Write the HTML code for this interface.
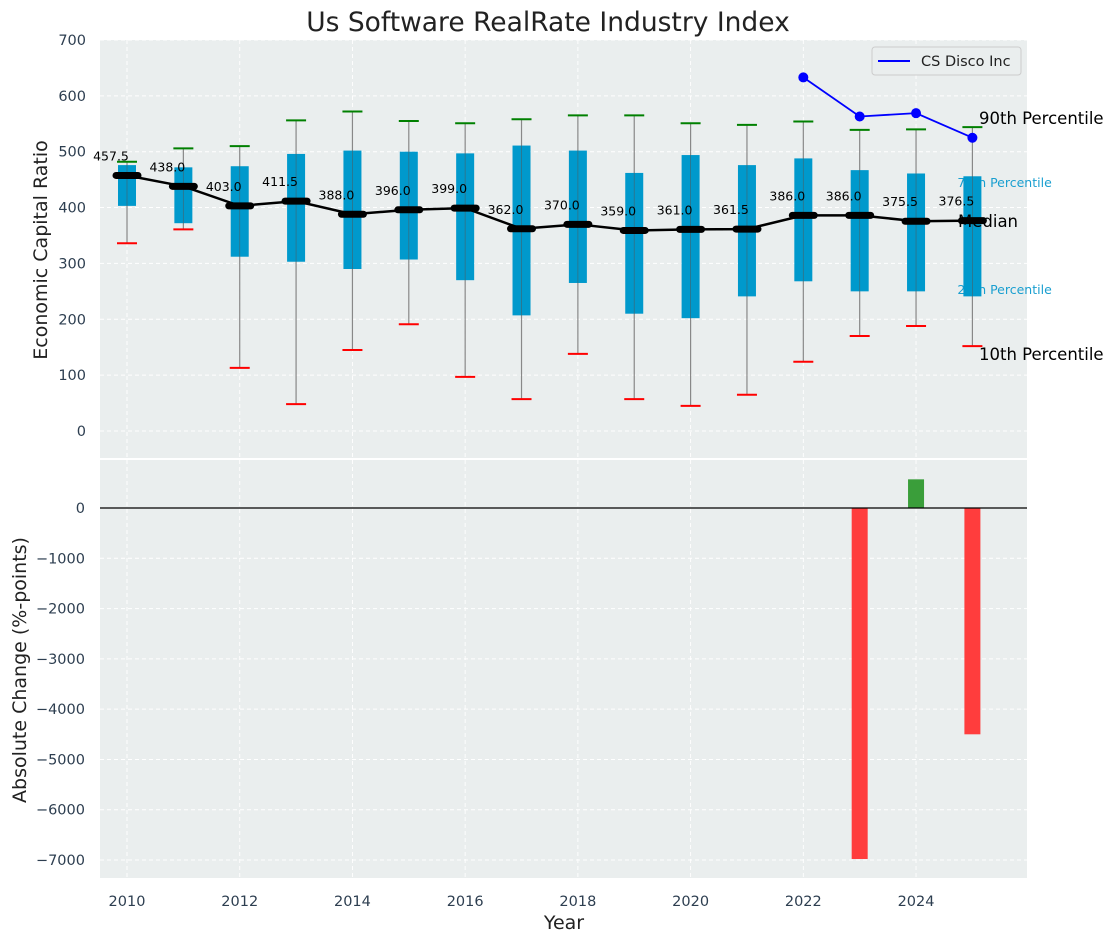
<!DOCTYPE html>
<html><head><meta charset="utf-8"><style>
body{margin:0;background:#fff;}
svg{font-family:"DejaVu Sans","Liberation Sans",sans-serif;}
</style></head><body>
<svg id="c" width="1114" height="942"></svg>
<script>
const years=[2010,2011,2012,2013,2014,2015,2016,2017,2018,2019,2020,2021,2022,2023,2024,2025];
const p10=[336,361,113,48,145,191,97,57,138,57,45,65,124,170,188,152];
const p25=[403,372,312,303,290,307,270,207,265,210,202,241,268,250,250,241];
const med=[457.5,438,403,411.5,388,396,399,362,370,359,361,361.5,386,386,375.5,376.5];
const p75=[476,472,474,496,502,500,497,511,502,462,494,476,488,467,461,456];
const p90=[482,506,510,556,572,555,551,558,565,565,551,548,554,539,540,544];
const compYears=[2022,2023,2024,2025];
const compVals=[633,563,569,525];
const chgYears=[2023,2024,2025];
const chgVals=[-6980,570,-4500];
const topTicks=[0,100,200,300,400,500,600,700];
const botTicks=[0,-1000,-2000,-3000,-4000,-5000,-6000,-7000];
const xTicks=[2010,2012,2014,2016,2018,2020,2022,2024];

const L=100,R=1027,T1=40,B1=458,T2=460,B2=878;
const X=v=>127+(v-2010)*56.36;
const Y1=v=>431-v*0.5586;
const Y2=v=>508-v*0.05029;
const svg=document.getElementById('c');
const NS='http://www.w3.org/2000/svg';
function mk(tag,at,txt){const e=document.createElementNS(NS,tag);for(const k in at)e.setAttribute(k,at[k]);if(txt!==undefined)e.textContent=txt;svg.appendChild(e);return e;}

let e;
e=mk('rect',{x:L,y:T1,width:R-L,height:B1-T1,fill:'#eaeeee'});


e=mk('rect',{x:L,y:T2,width:R-L,height:B2-T2,fill:'#eaeeee'});


xTicks.forEach(t=>{[[T1,B1],[T2,B2]].forEach(p=>{mk('line',{x1:X(t),x2:X(t),y1:p[0],y2:p[1],stroke:'#fff','stroke-dasharray':'4,3','stroke-width':0.9});});});
topTicks.forEach(t=>{mk('line',{x1:L,x2:R,y1:Y1(t),y2:Y1(t),stroke:'#fff','stroke-dasharray':'4,3'});
 e=mk('text',{x:L-14,y:Y1(t)+5,'text-anchor':'end','font-size':14.5,fill:'#2d3e50'},t);
 
 });
botTicks.forEach(t=>{mk('line',{x1:L,x2:R,y1:Y2(t),y2:Y2(t),stroke:'#fff','stroke-dasharray':'4,3'});
 e=mk('text',{x:L-15,y:Y2(t)+5,'text-anchor':'end','font-size':14.5,fill:'#2d3e50'},t===0?'0':'\u2212'+Math.abs(t));
 
 });
xTicks.forEach(t=>{e=mk('text',{x:X(t),y:B2+28,'text-anchor':'middle','font-size':14.5,fill:'#2d3e50'},t);
 
 });
e=mk('text',{x:X(2025)-15,y:187,'font-size':12.5,fill:'#1a9fd0'},'75th Percentile');


e=mk('text',{x:X(2025)-15,y:294,'font-size':12.5,fill:'#1a9fd0'},'25th Percentile');


years.forEach((y,i)=>{
 const x=X(y);
 e=mk('line',{x1:x,x2:x,y1:Y1(p90[i]),y2:Y1(p10[i]),stroke:'#888','stroke-width':1.2});
 
 
 e=mk('rect',{x:x-9,y:Y1(p75[i]),width:18,height:Y1(p25[i])-Y1(p75[i]),fill:'#0099cc'});
 
 
 mk('line',{x1:x,x2:x,y1:Y1(p75[i]),y2:Y1(p25[i]),stroke:'#555','stroke-width':0.8,opacity:0.6});
 e=mk('line',{x1:x-10,x2:x+10,y1:Y1(p90[i]),y2:Y1(p90[i]),stroke:'green','stroke-width':2});
 
 
 e=mk('line',{x1:x-10,x2:x+10,y1:Y1(p10[i]),y2:Y1(p10[i]),stroke:'red','stroke-width':2});
 
 
});
e=mk('polyline',{points:years.map((y,i)=>X(y)+','+Y1(med[i])).join(' '),fill:'none',stroke:'#000','stroke-width':2.5});


years.forEach((y,i)=>{
 e=mk('line',{x1:X(y)-11,x2:X(y)+11,y1:Y1(med[i]),y2:Y1(med[i]),stroke:'#000','stroke-width':7,'stroke-linecap':'round'});
 
 
 e=mk('text',{x:X(y)-16,y:Y1(med[i])-15,'text-anchor':'middle','font-size':12.5,fill:'#000'},med[i].toFixed(1));
 
 
});
e=mk('polyline',{points:compYears.map((y,i)=>X(y)+','+Y1(compVals[i])).join(' '),fill:'none',stroke:'blue','stroke-width':1.8});


compYears.forEach((y,i)=>{e=mk('circle',{cx:X(y),cy:Y1(compVals[i]),r:5,fill:'blue'});
 
 });
[['90th Percentile',124,'p90-label',979],['Median',227,'median-label',958],['10th Percentile',360,'p10-label',979]].forEach(a=>{
 e=mk('text',{x:a[3],y:a[1],'font-size':16.5,fill:'#000'},a[0]);
 
 });
e=mk('rect',{x:872,y:47,width:149,height:28,fill:'#eaeeee',stroke:'#ccc',rx:3});


mk('line',{x1:878,x2:910,y1:61,y2:61,stroke:'blue','stroke-width':2});
e=mk('text',{x:921,y:66,'font-size':14.5,fill:'#222'},'CS Disco Inc');


chgYears.forEach((y,i)=>{const v=chgVals[i];
 e=mk('rect',{x:X(y)-8,y:Math.min(Y2(0),Y2(v)),width:16,height:Math.abs(Y2(v)-Y2(0)),fill:v<0?'#ff3d3d':'#3a9e3a'});
 
 });
mk('line',{x1:L,x2:R,y1:Y2(0),y2:Y2(0),stroke:'#000','stroke-width':1.2});
e=mk('text',{x:548,y:31,'text-anchor':'middle','font-size':26.5,fill:'#222'},'Us Software RealRate Industry Index');


e=mk('text',{x:564,y:929,'text-anchor':'middle','font-size':19,fill:'#222'},'Year');


e=mk('text',{x:0,y:0,'text-anchor':'middle','font-size':19,fill:'#222',transform:'translate(47,250) rotate(-90)'},'Economic Capital Ratio');


e=mk('text',{x:0,y:0,'text-anchor':'middle','font-size':19,fill:'#222',transform:'translate(26,670) rotate(-90)'},'Absolute Change (%-points)');


</script>
</body></html>
